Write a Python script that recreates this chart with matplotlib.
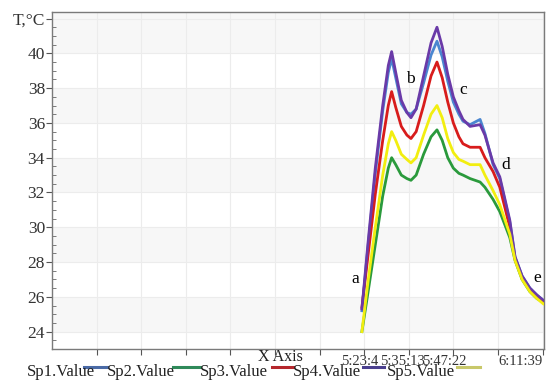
import matplotlib
matplotlib.use("Agg")
import matplotlib.pyplot as plt
from matplotlib.lines import Line2D
from matplotlib.transforms import ScaledTranslation

plt.rcParams['font.family'] = ['Liberation Serif', 'DejaVu Serif']

# ---- data (time in minutes from axis origin) ----
t = [83.4, 85.0, 87.0, 89.0, 90.5, 91.4, 92.5, 94.0, 95.5, 96.6, 98.0, 100.0,
     102.0, 103.6, 105.0, 106.5, 108.0, 109.5, 110.6, 112.5, 115.2, 116.5,
     118.7, 120.5, 123.2, 124.6, 126.5, 128.6, 130.5, 132.2]

sp4 = [25.3, 29.0, 33.4, 37.0, 39.3, 40.1, 38.9, 37.3, 36.6, 36.3, 36.8, 38.7,
       40.6, 41.5, 40.4, 38.8, 37.5, 36.7, 36.2, 35.8, 35.9, 35.3,
       33.7, 32.9, 30.4, 28.3, 27.2, 26.5, 26.1, 25.8]
sp1 = [25.2, 28.8, 33.1, 36.7, 38.9, 39.7, 38.6, 37.1, 36.6, 36.5, 36.8, 38.3,
       39.9, 40.7, 39.8, 38.4, 37.2, 36.5, 36.1, 35.9, 36.2, 35.4,
       33.6, 32.8, 30.3, 28.3, 27.2, 26.5, 26.1, 25.8]
sp3 = [25.4, 28.3, 31.9, 35.0, 37.0, 37.8, 36.9, 35.8, 35.3, 35.1, 35.5, 37.0,
       38.7, 39.5, 38.6, 37.2, 36.0, 35.2, 34.8, 34.6, 34.6, 34.0,
       33.2, 32.3, 30.0, 28.2, 27.1, 26.4, 26.0, 25.7]
sp5 = [24.0, 26.8, 30.0, 33.0, 34.8, 35.5, 35.0, 34.2, 33.9, 33.7, 34.0, 35.3,
       36.5, 37.0, 36.3, 35.1, 34.3, 33.9, 33.8, 33.6, 33.6, 33.0,
       32.1, 31.3, 29.6, 28.1, 27.0, 26.3, 25.9, 25.6]
sp2 = [24.0, 26.2, 29.0, 31.8, 33.4, 34.0, 33.6, 33.0, 32.8, 32.7, 33.0, 34.2,
       35.2, 35.6, 35.0, 34.0, 33.4, 33.1, 33.0, 32.8, 32.6, 32.3,
       31.6, 30.9, 29.4, 28.1, 27.0, 26.3, 25.9, 25.7]

series_names = ['Sp1.Value', 'Sp2.Value', 'Sp3.Value', 'Sp4.Value', 'Sp5.Value']
line_colors = ['#4a86d0', '#2a9a3c', '#d81c1c', '#6a3aa8', '#f2ee10']
legend_colors = ['#4a6aa6', '#2f8a5a', '#b5272c', '#4a3f8e', '#c8c86a']

yticks = [24, 26, 28, 30, 32, 34, 36, 38, 40, 42]
ytick_labels = ['24', '26', '28', '30', '32', '34', '36', '38', '40', 'T,°C']
xticks = [12, 24, 36, 48, 60, 72, 84, 96, 108, 120, 132]
xtick_labels = ['', '', '', '', '', '', '5:23:4', '5:35:13', '5:47:22', '', '6:11:39']

point_labels = ['a', 'b', 'c', 'd', 'e']
point_t = [81.5, 96.5, 110.7, 122.2, 130.6]
point_v = [27.0, 38.5, 37.9, 33.6, 27.1]

# ---- figure ----
W, H = 551, 390
fig = plt.figure(figsize=(W / 100, H / 100), dpi=100)
ax = fig.add_axes([52 / W, 1 - 349 / H, (544 - 52) / W, (349 - 12.3) / H])

ax.set_xlim(0, 132.4)
ax.set_ylim(23.0, 42.36)

# alternating bands
for lo in range(24, 42, 4):
    ax.axhspan(lo, lo + 2, color='#f7f7f7', zorder=0, lw=0)
ax.axhspan(40, 42.36, color='#f7f7f7', zorder=0, lw=0)

for y in yticks:
    ax.axhline(y, color='#ececec', lw=0.8, zorder=0.5)
for x in xticks:
    ax.axvline(x, color='#ececec', lw=0.8, zorder=0.5)

data = [sp1, sp2, sp3, sp4, sp5]
order = [1, 4, 2, 0, 3]
for i in order:
    ax.plot(t, data[i], color=line_colors[i], lw=2.0, zorder=3 + i * 0.1)

for lab, px, pv in zip(point_labels, point_t, point_v):
    ax.text(px, pv, lab, fontsize=12.5, ha='center', va='center', zorder=5)

ax.set_yticks(yticks)
ax.set_yticklabels(ytick_labels, fontsize=12.5, color='#333333')
ax.set_yticks([v / 2 for v in range(46, 85)], minor=True)
ax.tick_params(axis='y', which='major', direction='out', length=4, width=0.8,
               color='#555555', pad=1)
ax.tick_params(axis='y', which='minor', direction='in', length=3, width=0.6,
               color='#666666')

ax.set_xticks(xticks)
ax.set_xticklabels(xtick_labels, fontsize=10.5, color='#333333')
ax.tick_params(axis='x', which='major', direction='out', length=4, width=0.8,
               color='#555555', pad=0)
xl = ax.get_xticklabels()
shifts = [0, 0, 0, 0, 0, 0, -4, -6, -9, 0, 0]
for lbl, s in zip(xl, shifts):
    if s:
        lbl.set_transform(lbl.get_transform() + ScaledTranslation(s / 100, 0, fig.dpi_scale_trans))
xl[-1].set_ha('right')

for sp in ax.spines.values():
    sp.set_color('#7a7a7a')
    sp.set_linewidth(1.0)

fig.text(280 / W, 1 - 357 / H, 'X Axis', fontsize=11.5, ha='center', va='center', color='#222222')

# legend row
text_x = [27, 107, 200, 293, 387]
line_x = [(84, 107), (173, 200), (272, 293), (363, 384), (457, 480)]
for name, tx, (l0, l1), c in zip(series_names, text_x, line_x, legend_colors):
    fig.text(tx / W, 1 - 372.5 / H, name, fontsize=12, ha='left', va='center', color='#222222')
    fig.add_artist(Line2D([l0 / W, l1 / W], [1 - 366.5 / H, 1 - 366.5 / H],
                          color=c, lw=2.2, transform=fig.transFigure))

fig.savefig('out.png', dpi=100)
